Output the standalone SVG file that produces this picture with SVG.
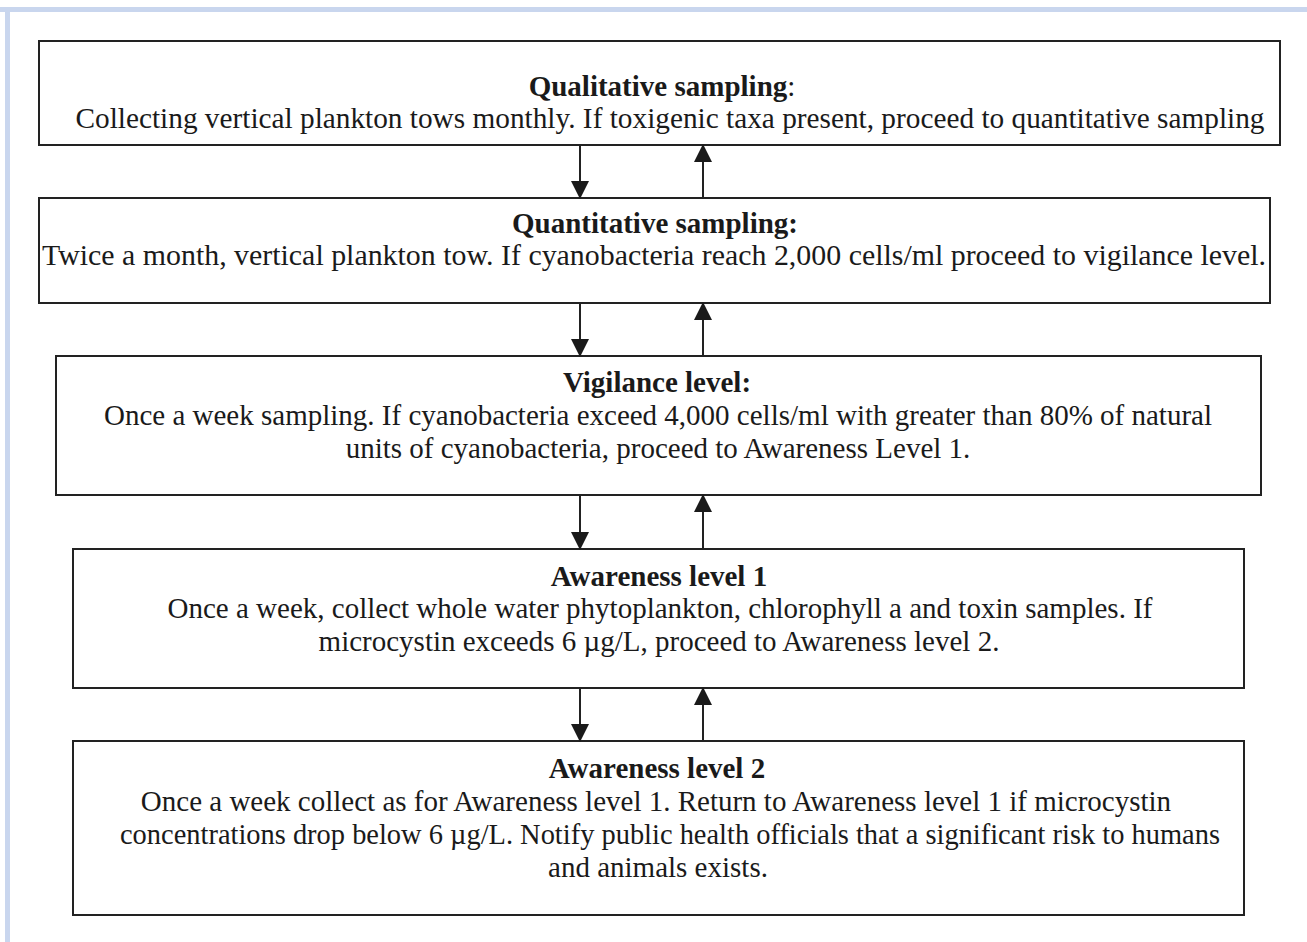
<svg xmlns="http://www.w3.org/2000/svg" width="1307" height="942" viewBox="0 0 1307 942">
<style>
.box{fill:#fff;stroke:#222;stroke-width:2}
.t{font-family:"Liberation Serif","Times New Roman",serif;font-size:29px;fill:#1a1a1a;text-anchor:middle}
.b{font-weight:bold}
.conn{stroke:#222;stroke-width:2;fill:none}
</style>
<defs>
<marker id="ah" viewBox="0 0 18 18" refX="17" refY="9" markerWidth="18" markerHeight="18" markerUnits="userSpaceOnUse" orient="auto">
<path d="M0,0 L18,9 L0,18 Z" fill="#1a1a1a"/>
</marker>
</defs>
<rect x="0" y="0" width="1307" height="942" fill="#fff"/>
<rect x="0" y="7" width="1307" height="5" fill="#c9d6ee"/>
<rect x="5" y="7" width="5" height="935" fill="#c9d6ee"/>
<g id="n1">
<rect class="box" x="39" y="41" width="1241" height="104"/>
<text class="t" x="662" y="96"><tspan class="b">Qualitative sampling</tspan>:</text>
<text class="t" x="670" y="128" textLength="1189" lengthAdjust="spacingAndGlyphs">Collecting vertical plankton tows monthly. If toxigenic taxa present, proceed to quantitative sampling</text>
</g>
<g id="n2">
<rect class="box" x="39" y="198" width="1231" height="105"/>
<text class="t b" x="655" y="233">Quantitative sampling:</text>
<text class="t" x="654" y="265" textLength="1224" lengthAdjust="spacingAndGlyphs">Twice a month, vertical plankton tow. If cyanobacteria reach 2,000 cells/ml proceed to vigilance level.</text>
</g>
<g id="n3">
<rect class="box" x="56" y="356" width="1205" height="139"/>
<text class="t b" x="657" y="392">Vigilance level:</text>
<text class="t" x="658" y="425">Once a week sampling. If cyanobacteria exceed 4,000 cells/ml with greater than 80% of natural</text>
<text class="t" x="658" y="458">units of cyanobacteria, proceed to Awareness Level 1.</text>
</g>
<g id="n4">
<rect class="box" x="73" y="549" width="1171" height="139"/>
<text class="t b" x="659" y="586">Awareness level 1</text>
<text class="t" x="660" y="618">Once a week, collect whole water phytoplankton, chlorophyll a and toxin samples. If</text>
<text class="t" x="659" y="651">microcystin exceeds 6 µg/L, proceed to Awareness level 2.</text>
</g>
<g id="n5">
<rect class="box" x="73" y="741" width="1171" height="174"/>
<text class="t b" x="657" y="778">Awareness level 2</text>
<text class="t" x="656" y="811">Once a week collect as for Awareness level 1. Return to Awareness level 1 if microcystin</text>
<text class="t" x="670" y="844" textLength="1100" lengthAdjust="spacingAndGlyphs">concentrations drop below 6 µg/L. Notify public health officials that a significant risk to humans</text>
<text class="t" x="658" y="877">and animals exists.</text>
</g>
<g id="connectors">
<line class="conn" x1="580" y1="145" x2="580" y2="198" marker-end="url(#ah)"/>
<line class="conn" x1="703" y1="198" x2="703" y2="145" marker-end="url(#ah)"/>
<line class="conn" x1="580" y1="303" x2="580" y2="356" marker-end="url(#ah)"/>
<line class="conn" x1="703" y1="356" x2="703" y2="303" marker-end="url(#ah)"/>
<line class="conn" x1="580" y1="495" x2="580" y2="549" marker-end="url(#ah)"/>
<line class="conn" x1="703" y1="549" x2="703" y2="495" marker-end="url(#ah)"/>
<line class="conn" x1="580" y1="688" x2="580" y2="741" marker-end="url(#ah)"/>
<line class="conn" x1="703" y1="741" x2="703" y2="688" marker-end="url(#ah)"/>
</g>
</svg>
